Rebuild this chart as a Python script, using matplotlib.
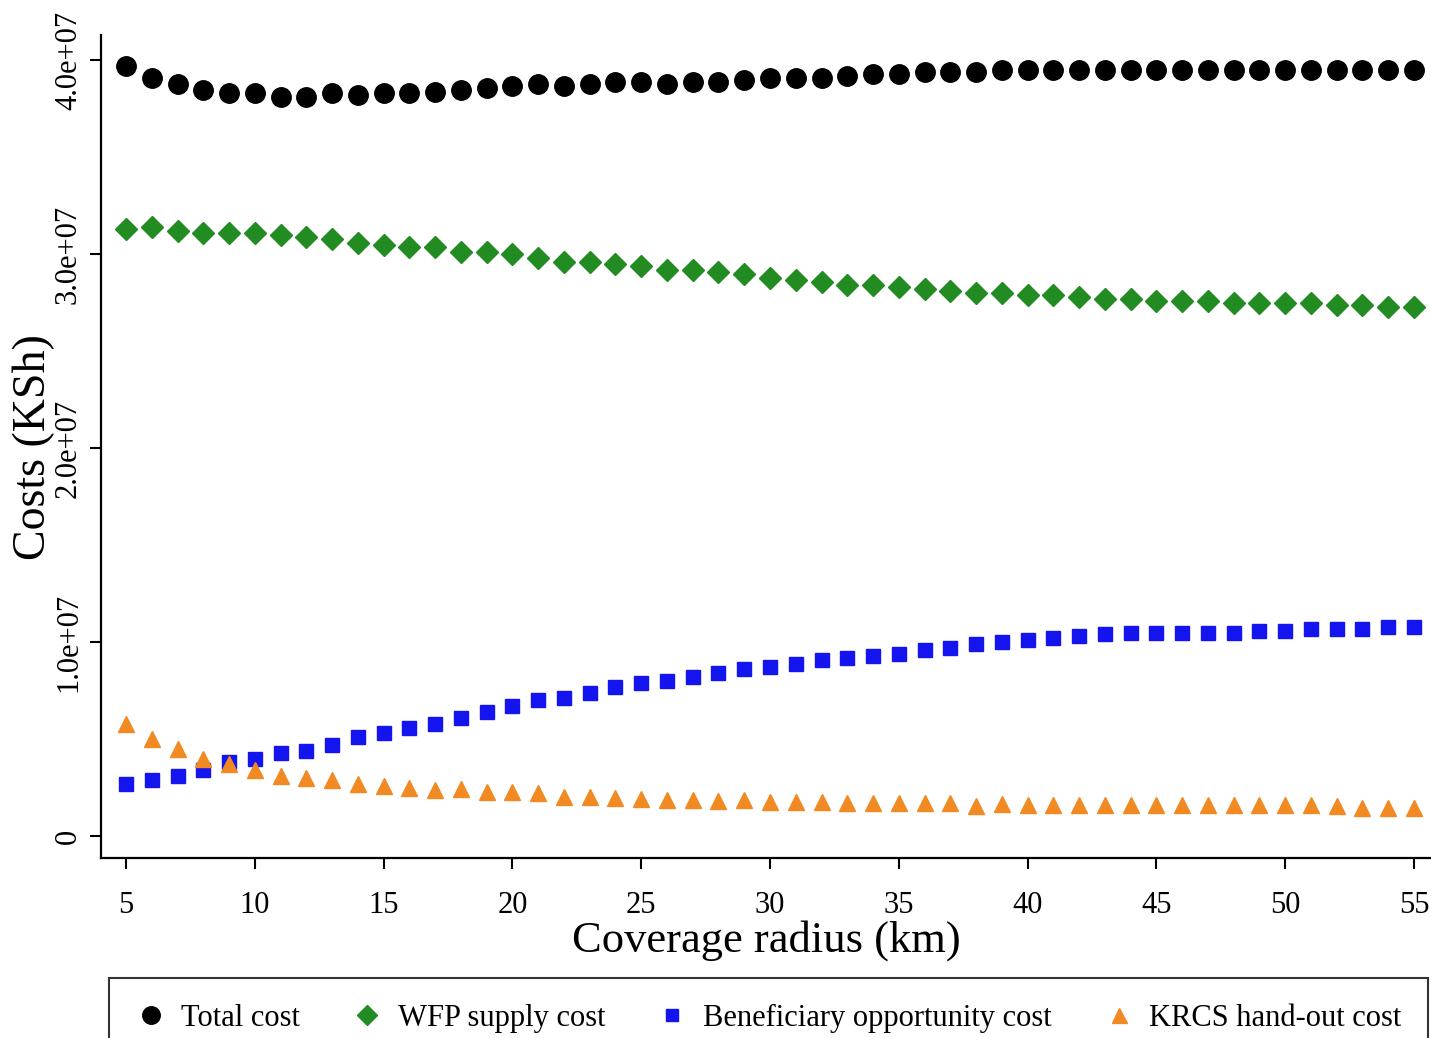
import numpy as np
import matplotlib
matplotlib.use('Agg')
import matplotlib.pyplot as plt

plt.rcParams['font.family'] = ['Liberation Serif', 'DejaVu Serif']

# Coverage radius (km)
radius = list(range(5, 56))

# Costs in units of 1e7 KSh
total_cost = [3.97, 3.91, 3.88, 3.85, 3.83, 3.83, 3.81, 3.81, 3.83, 3.82,
              3.83, 3.83, 3.84, 3.85, 3.86, 3.87, 3.88, 3.87, 3.88, 3.89,
              3.89, 3.88, 3.89, 3.89, 3.90, 3.91, 3.91, 3.91, 3.92, 3.93,
              3.93, 3.94, 3.94, 3.94, 3.95, 3.95, 3.95, 3.95, 3.95, 3.95,
              3.95, 3.95, 3.95, 3.95, 3.95, 3.95, 3.95, 3.95, 3.95, 3.95,
              3.95]
wfp_cost = [3.13, 3.14, 3.12, 3.11, 3.11, 3.11, 3.10, 3.09, 3.08, 3.06,
            3.05, 3.04, 3.04, 3.01, 3.01, 3.00, 2.98, 2.96, 2.96, 2.95,
            2.94, 2.92, 2.92, 2.91, 2.90, 2.88, 2.87, 2.86, 2.84, 2.84,
            2.83, 2.82, 2.81, 2.80, 2.80, 2.79, 2.79, 2.78, 2.77, 2.77,
            2.76, 2.76, 2.76, 2.75, 2.75, 2.75, 2.75, 2.74, 2.74, 2.73,
            2.73]
benef_cost = [0.27, 0.29, 0.31, 0.34, 0.38, 0.40, 0.43, 0.44, 0.47, 0.51,
              0.53, 0.56, 0.58, 0.61, 0.64, 0.67, 0.70, 0.71, 0.74, 0.77,
              0.79, 0.80, 0.82, 0.84, 0.86, 0.87, 0.89, 0.91, 0.92, 0.93,
              0.94, 0.96, 0.97, 0.99, 1.00, 1.01, 1.02, 1.03, 1.04, 1.05,
              1.05, 1.05, 1.05, 1.05, 1.06, 1.06, 1.07, 1.07, 1.07, 1.08,
              1.08]
krcs_cost = [0.58, 0.50, 0.45, 0.40, 0.37, 0.34, 0.31, 0.30, 0.29, 0.27,
             0.26, 0.25, 0.24, 0.245, 0.23, 0.23, 0.22, 0.20, 0.20, 0.195,
             0.19, 0.185, 0.185, 0.18, 0.185, 0.175, 0.175, 0.175, 0.17, 0.17,
             0.17, 0.17, 0.17, 0.155, 0.165, 0.16, 0.16, 0.16, 0.16, 0.16,
             0.16, 0.16, 0.16, 0.16, 0.16, 0.16, 0.16, 0.155, 0.145, 0.145,
             0.145]

x_ticks = list(range(5, 56, 5))
y_ticks = [0, 1e7, 2e7, 3e7, 4e7]
y_tick_labels = ['0', '1.0e+07', '2.0e+07', '3.0e+07', '4.0e+07']

fig = plt.figure(figsize=(14.31, 10.38), dpi=100)
ax = fig.add_axes([0.0706, 0.1734, 0.9294, 0.7926])

scale = 1e7
ax.plot(radius, np.array(total_cost) * scale, 'o', color='black',
        markersize=14, linestyle='none', label='Total cost')
ax.plot(radius, np.array(wfp_cost) * scale, 'D', color='#228b22',
        markersize=11, linestyle='none', label='WFP supply cost')
ax.plot(radius, np.array(benef_cost) * scale, 's', color='#1414ee',
        markersize=10, linestyle='none', label='Beneficiary opportunity cost')
ax.plot(radius, np.array(krcs_cost) * scale, '^', color='#f28a24',
        markersize=12, linestyle='none', label='KRCS hand-out cost')

ax.set_xlim(4.03, 55.66)
ax.set_ylim(-0.113e7, 4.13e7)

ax.set_xticks(x_ticks)
ax.set_yticks(y_ticks)
ax.set_yticklabels(y_tick_labels, rotation=90, va='center')
ax.tick_params(axis='both', labelsize=22, width=1.5, length=8, direction='out')
ax.tick_params(axis='y', pad=5)
ax.tick_params(axis='x', pad=16)

ax.spines['top'].set_visible(False)
ax.spines['right'].set_visible(False)
ax.spines['left'].set_linewidth(1.6)
ax.spines['bottom'].set_linewidth(1.6)

ax.set_xlabel('Coverage radius (km)', fontsize=32, labelpad=0)
ax.set_ylabel('Costs (KSh)', fontsize=33, labelpad=-1)

leg = fig.legend(loc='upper center', bbox_to_anchor=(0.537, 0.058), ncol=4,
                 fontsize=22, frameon=True, fancybox=False, edgecolor='black',
                 handletextpad=0.5, columnspacing=1.7, borderpad=0.85,
                 borderaxespad=0, markerscale=0.9, handlelength=1.0)
leg.get_frame().set_linewidth(1.5)

plt.savefig('out.png', dpi=100)
